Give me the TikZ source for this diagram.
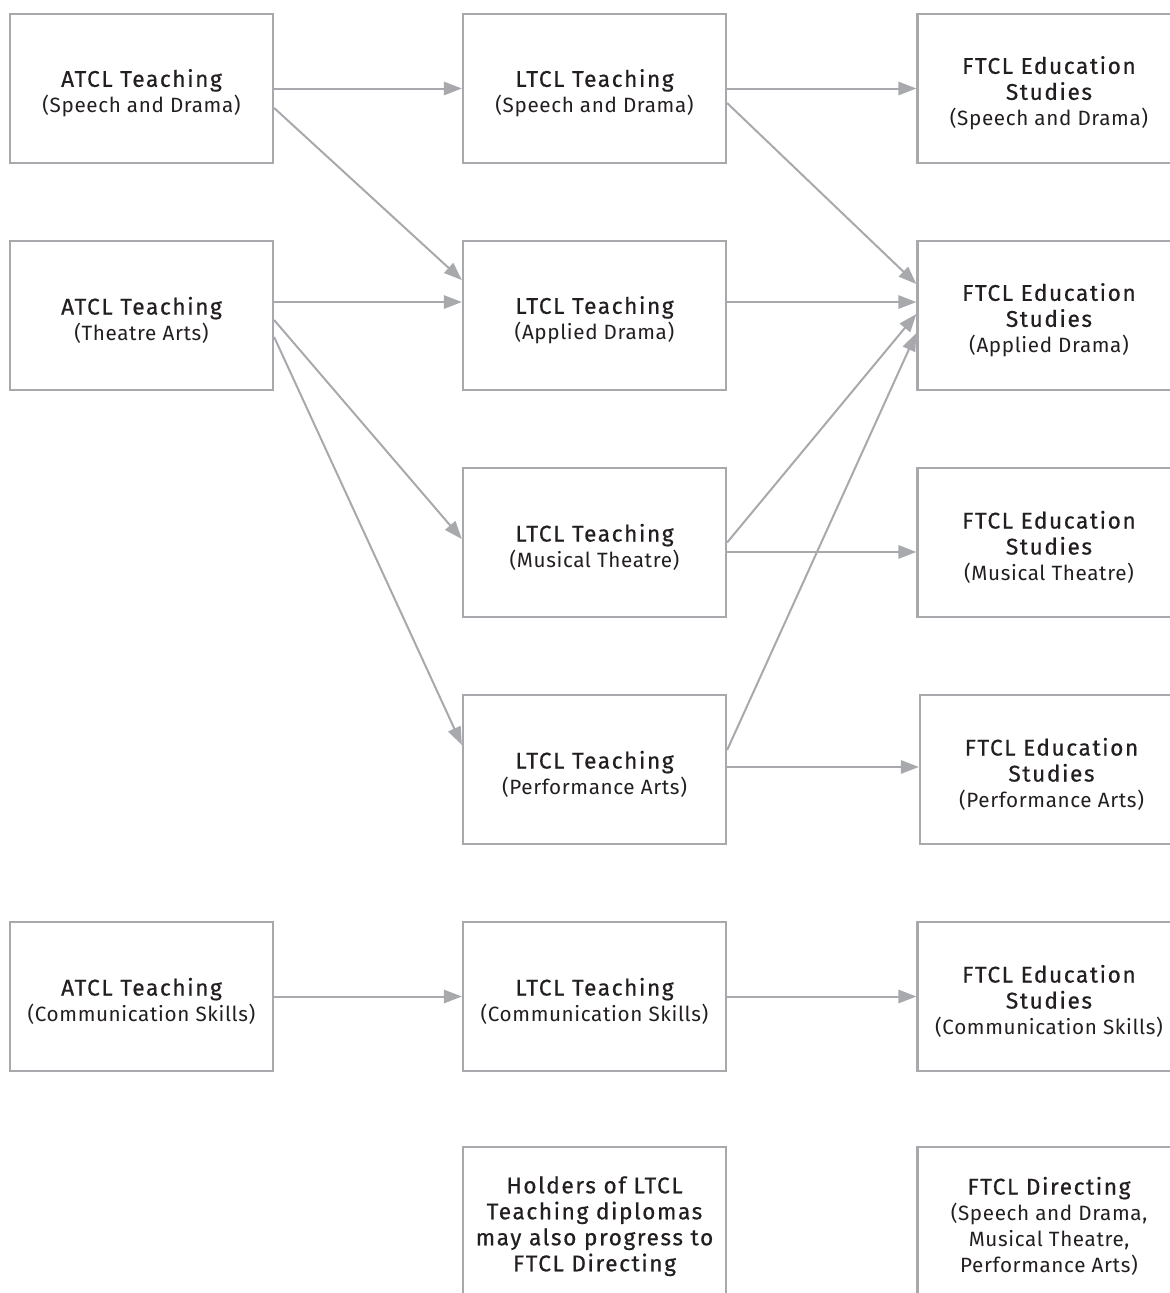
\documentclass[tikz,border=0pt]{standalone}
\usepackage{fontspec}
\setmainfont{Fira Sans}[LetterSpace=3]
\newfontfamily\ttlfont{Fira Sans}[FakeBold=0.6,LetterSpace=7]
\usetikzlibrary{arrows.meta}
\definecolor{linegray}{RGB}{168,169,173}
\definecolor{txtc}{RGB}{35,31,32}
\newcommand\ttl[1]{{\fontsize{17}{19.5}\ttlfont #1}}
\newcommand\mybox[3]{%
  \node[box] (#1) at (#2) {};
  \node[lbl] (#1t) at ([yshift=-3.5pt]#1.center) {#3};}
\begin{document}
\begin{tikzpicture}[x=0.75pt,y=-0.75pt,
  box/.style={draw=linegray, line width=1.7pt, minimum width=197.25pt, minimum height=111.75pt,
    inner sep=0pt},
  lbl/.style={inner sep=0pt, align=center, text=txtc, font=\fontsize{15.5}{19.5}\selectfont},
  arr/.style={draw=linegray, line width=1.5pt, -{Triangle[length=13.5pt,width=10pt]}},
]
\useasboundingbox (0,0) rectangle (1170,1293);
\clip (0,0) rectangle (1170,1293);
% column 1
\mybox{a1}{141.5,88.5}{\ttl{ATCL Teaching}\\(Speech and Drama)}
\mybox{a2}{141.5,315.5}{\ttl{ATCL Teaching}\\(Theatre Arts)}
\mybox{a3}{141.5,996.5}{\ttl{ATCL Teaching}\\(Communication Skills)}
% column 2
\mybox{b1}{594.5,88.5}{\ttl{LTCL Teaching}\\(Speech and Drama)}
\mybox{b2}{594.5,315.5}{\ttl{LTCL Teaching}\\(Applied Drama)}
\mybox{b3}{594.5,542.5}{\ttl{LTCL Teaching}\\(Musical Theatre)}
\mybox{b4}{594.5,769.5}{\ttl{LTCL Teaching}\\(Performance Arts)}
\mybox{b5}{594.5,996.5}{\ttl{LTCL Teaching}\\(Communication Skills)}
\mybox{b6}{594.5,1221.5}{\ttl{Holders of LTCL}\\\ttl{Teaching diplomas}\\\ttl{may also progress to}\\\ttl{FTCL Directing}}
% column 3
\mybox{c1}{1049,88.5}{\ttl{FTCL Education}\\\ttl{Studies}\\(Speech and Drama)}
\mybox{c2}{1049,315.5}{\ttl{FTCL Education}\\\ttl{Studies}\\(Applied Drama)}
\mybox{c3}{1049,542.5}{\ttl{FTCL Education}\\\ttl{Studies}\\(Musical Theatre)}
\mybox{c4}{1051.5,769.5}{\ttl{FTCL Education}\\\ttl{Studies}\\(Performance Arts)}
\mybox{c5}{1049,996.5}{\ttl{FTCL Education}\\\ttl{Studies}\\(Communication Skills)}
\mybox{c6}{1049,1221.5}{\ttl{FTCL Directing}\\(Speech and Drama,\\Musical Theatre,\\Performance Arts)}
% arrows
\draw[arr] (a1.east) -- (b1.west);
\draw[arr] ([yshift=-14.6pt]a1.east) -- ([yshift=26.6pt]b2.west);
\draw[arr] ([yshift=10.1pt]a2.east) -- ([yshift=10.1pt]b2.west);
\draw[arr] ([yshift=-3.4pt]a2.east) -- ([yshift=2.6pt]b3.west);
\draw[arr] ([yshift=-16.1pt]a2.east) -- ([yshift=18.4pt]b4.west);
\draw[arr] (b1.east) -- (c1.west);
\draw[arr] ([yshift=-10.9pt]b1.east) -- ([yshift=23.6pt]c2.west);
\draw[arr] ([yshift=10.1pt]b2.east) -- ([yshift=10.1pt]c2.west);
\draw[arr] (b3.east) -- ([yshift=1.1pt]c2.west);
\draw[arr] ([yshift=-7.1pt]b3.east) -- ([yshift=-7.1pt]c3.west);
\draw[arr] ([yshift=14.6pt]b4.east) -- ([yshift=-13.1pt]c2.west);
\draw[arr] ([yshift=1.9pt]b4.east) -- ([yshift=1.9pt]c4.west);
\draw[arr] (a3.east) -- (b5.west);
\draw[arr] (b5.east) -- (c5.west);
\end{tikzpicture}
\end{document}
